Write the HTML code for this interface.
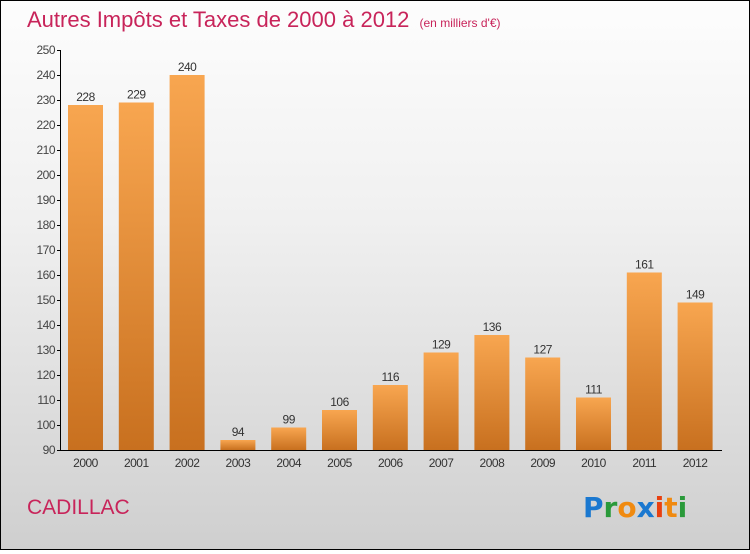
<!DOCTYPE html>
<html><head><meta charset="utf-8"><style>
body{margin:0;width:750px;height:550px;overflow:hidden;font-family:"Liberation Sans",sans-serif}
#wrap{position:absolute;left:0;top:0;width:748px;height:548px;border:1px solid #000;background:linear-gradient(#fdfdfd,#f0f0f0 40%,#cfcfcf)}
</style></head><body>
<div id="wrap">
<svg width="748" height="548">
<defs><linearGradient id="bg" x1="0" y1="0" x2="0" y2="1"><stop offset="0" stop-color="#f8a650"/><stop offset="1" stop-color="#c8701f"/></linearGradient></defs>
<text x="26" y="26" font-size="22" fill="#c8245a">Autres Impôts et Taxes de 2000 à 2012 <tspan font-size="12" dx="4">(en milliers d'€)</tspan></text>
<g id="yaxis"></g>
<g id="bars"></g>
<text x="26" y="513" font-size="21" fill="#c8245a">CADILLAC</text>
<g font-size="28" font-weight="bold" font-family="'DejaVu Sans',sans-serif">
<text x="582" y="516"><tspan fill="#1a78d0">P</tspan><tspan fill="#2a9a3a">r</tspan><tspan fill="#f08a10">o</tspan><tspan fill="#1a78d0">x</tspan><tspan fill="#e84010">i</tspan><tspan fill="#f08a10">t</tspan><tspan fill="#2a9a3a">i</tspan></text></g>
</svg></div>
<script>
const years=["2000","2001","2002","2003","2004","2005","2006","2007","2008","2009","2010","2011","2012"];
const values=[228,229,240,94,99,106,116,129,136,127,111,161,149];
const yTicks=[90,100,110,120,130,140,150,160,170,180,190,200,210,220,230,240,250];
const NS="http://www.w3.org/2000/svg";
const y=v=>449-(v-90)*2.5;
const x=i=>84.5+i*50.8;
function mk(t,a,p){const e=document.createElementNS(NS,t);for(const k in a)e.setAttribute(k,a[k]);p.appendChild(e);return e;}
const ya=document.getElementById('yaxis'),bs=document.getElementById('bars');
let l=mk('line',{x1:59.5,x2:59.5,y1:49,y2:449,stroke:'#000'},ya);


l=mk('line',{x1:59,x2:721,y1:449.5,y2:449.5,stroke:'#000'},ya);


yTicks.forEach(t=>{
 mk('line',{x1:56,x2:60,y1:y(t)+.5,y2:y(t)+.5,stroke:'#000'},ya);
 const tx=mk('text',{x:54,y:y(t)+4,'font-size':12,'text-anchor':'end',fill:'#444','letter-spacing':'-0.5'},ya);
 tx.textContent=t;
 
 
});
values.forEach((v,i)=>{
 const r=mk('rect',{x:x(i)-17.5,y:y(v),width:35,height:449-y(v),fill:'url(#bg)'},bs);
 
 
 const t=mk('text',{x:x(i),y:y(v)-4,'font-size':12,'text-anchor':'middle',fill:'#333','letter-spacing':'-0.5'},bs);
 t.textContent=v;
 
 
 const xl=mk('text',{x:x(i),y:466,'font-size':12,'text-anchor':'middle',fill:'#333','letter-spacing':'-0.5'},bs);
 xl.textContent=years[i];
 
 
});
</script>
</body></html>
